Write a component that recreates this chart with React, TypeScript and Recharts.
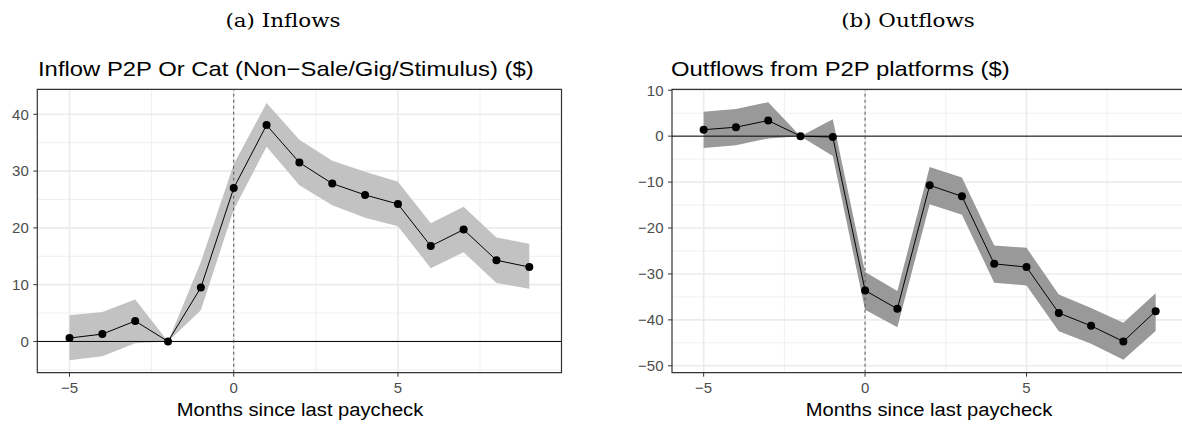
import React from "react";
import {
  ComposedChart,
  Area,
  Line,
  XAxis,
  YAxis,
  CartesianGrid,
  ReferenceLine,
  ReferenceArea,
} from "recharts";

// months relative to last paycheck
const MONTHS = [-5, -4, -3, -2, -1, 0, 1, 2, 3, 4, 5, 6, 7, 8, 9];

// (a) inflows: estimate and 95% band
const IN_EST = [0.6, 1.3, 3.6, 0, 9.5, 27.0, 38.1, 31.5, 27.8, 25.8, 24.2, 16.8, 19.7, 14.3, 13.1];
const IN_LO = [-3.3, -2.6, -0.3, 0, 5.5, 23.2, 34.3, 27.5, 24.0, 21.8, 20.3, 12.9, 15.7, 10.3, 9.3];
const IN_HI = [4.6, 5.2, 7.4, 0, 14.0, 31.2, 42.0, 35.5, 31.8, 29.9, 28.1, 20.8, 23.7, 18.3, 17.2];

// (b) outflows
const OUT_EST = [1.4, 1.95, 3.4, 0, -0.2, -33.6, -37.6, -10.7, -13.1, -27.8, -28.5, -38.5, -41.3, -44.7, -38.1];
const OUT_LO = [-2.6, -2.0, -0.5, 0, -4.3, -37.8, -41.6, -14.8, -17.1, -31.9, -32.5, -42.5, -45.2, -48.7, -42.4];
const OUT_HI = [5.3, 5.9, 7.4, 0, 3.7, -29.6, -33.7, -6.7, -9.0, -23.8, -24.3, -34.5, -37.4, -40.6, -34.2];

const X_TICKS = [-5, 0, 5];
const X_MINOR = [-2.5, 2.5, 7.5];
const X_DOMAIN: [number, number] = [-5.98, 9.98];

const IN_Y_TICKS = [0, 10, 20, 30, 40];
const IN_Y_MINOR = [-5, 5, 15, 25, 35];
const IN_Y_DOMAIN: [number, number] = [-5.5, 44.4];

const OUT_Y_TICKS = [10, 0, -10, -20, -30, -40, -50];
const OUT_Y_MINOR = [5, -5, -15, -25, -35, -45];
const OUT_Y_DOMAIN: [number, number] = [-51.5, 10.2];

const SANS = '"Liberation Sans", Arial, Helvetica, sans-serif';
const SERIF = '"DejaVu Serif", "Liberation Serif", serif';
// the source figure is a bit wider than tall, so text is stretched a little
const STRETCH = "scaleX(1.135)";

const fmt = (v: number) => String(v).replace("-", "\u2212");

function build(est: number[], lo: number[], hi: number[]) {
  return MONTHS.map((m, i) => ({ m, est: est[i], band: [lo[i], hi[i]] }));
}

interface PanelProps {
  data: { m: number; est: number; band: number[] }[];
  yTicks: number[];
  yMinor: number[];
  yDomain: [number, number];
  bandColor: string;
  width: number;
  yAxisWidth: number;
  rightMargin: number;
}

function Panel({ data, yTicks, yMinor, yDomain, bandColor, width, yAxisWidth, rightMargin }: PanelProps) {
  const tickStyle = { fontSize: 15, fill: "#4d4d4d", fontFamily: SANS };
  return (
    <ComposedChart
      width={width}
      height={424}
      data={data}
      margin={{ top: 89.3, right: rightMargin, left: 0, bottom: 0 }}
    >
      <CartesianGrid
        stroke="#ebebeb"
        strokeWidth={0.8}
        horizontalValues={yMinor}
        verticalValues={X_MINOR}
      />
      <CartesianGrid
        stroke="#ebebeb"
        strokeWidth={1.6}
        horizontalValues={yTicks}
        verticalValues={X_TICKS}
      />
      <XAxis
        dataKey="m"
        type="number"
        domain={X_DOMAIN}
        ticks={X_TICKS}
        allowDataOverflow
        height={51.3}
        axisLine={false}
        tickSize={4}
        tickMargin={6}
        tickLine={{ stroke: "#333333" }}
        tick={tickStyle}
        tickFormatter={fmt}
      />
      <YAxis
        type="number"
        domain={yDomain}
        ticks={yTicks}
        allowDataOverflow
        width={yAxisWidth}
        axisLine={false}
        tickSize={4}
        tickMargin={4.5}
        tickLine={{ stroke: "#333333" }}
        tick={tickStyle}
        tickFormatter={fmt}
      />
      <Area
        dataKey="band"
        type="linear"
        fill={bandColor}
        fillOpacity={1}
        stroke="none"
        isAnimationActive={false}
      />
      <ReferenceLine y={0} stroke="#000" strokeWidth={1} />
      <ReferenceLine x={0} stroke="#555" strokeWidth={1} strokeDasharray="3 3" />
      <Line
        dataKey="est"
        type="linear"
        stroke="#000"
        strokeWidth={1}
        dot={{ r: 4, fill: "#000", stroke: "#000", strokeWidth: 0 }}
        isAnimationActive={false}
      />
      <ReferenceArea
        x1={X_DOMAIN[0]}
        x2={X_DOMAIN[1]}
        y1={yDomain[0]}
        y2={yDomain[1]}
        fill="none"
        fillOpacity={0}
        stroke="#333333"
        strokeWidth={1.2}
        ifOverflow="visible"
      />
    </ComposedChart>
  );
}

const centered = (cx: number, top: number, font: string, size: number, scale: string): React.CSSProperties => ({
  position: "absolute",
  left: cx - 200,
  width: 400,
  top,
  textAlign: "center",
  fontFamily: font,
  fontSize: size,
  whiteSpace: "nowrap",
  transform: scale,
  transformOrigin: "center top",
  color: "#000",
});

const leftTitle = (left: number): React.CSSProperties => ({
  position: "absolute",
  left,
  top: 57,
  fontFamily: SANS,
  fontSize: 21,
  whiteSpace: "nowrap",
  transform: STRETCH,
  transformOrigin: "left top",
  color: "#000",
});

export default function App() {
  const inData = build(IN_EST, IN_LO, IN_HI);
  const outData = build(OUT_EST, OUT_LO, OUT_HI);

  return (
    <div
      style={{
        position: "fixed",
        left: 0,
        top: 0,
        width: 1182,
        height: 424,
        overflow: "hidden",
        background: "#fff",
      }}
    >
      <div style={{ position: "absolute", left: 0, top: 0 }}>
        <Panel
          data={inData}
          yTicks={IN_Y_TICKS}
          yMinor={IN_Y_MINOR}
          yDomain={IN_Y_DOMAIN}
          bandColor="#c2c2c2"
          width={575}
          yAxisWidth={37.3}
          rightMargin={13.5}
        />
      </div>
      <div style={{ position: "absolute", left: 621.7, top: 0 }}>
        <Panel
          data={outData}
          yTicks={OUT_Y_TICKS}
          yMinor={OUT_Y_MINOR}
          yDomain={OUT_Y_DOMAIN}
          bandColor="#999999"
          width={570.3}
          yAxisWidth={50}
          rightMargin={5}
        />
      </div>

      <div style={centered(283, 10, SERIF, 18, "scaleX(1.19)")}>(a) Inflows</div>
      <div style={centered(908, 10, SERIF, 18, "scaleX(1.19)")}>(b) Outflows</div>

      <div style={leftTitle(38)}>Inflow P2P Or Cat (Non{"\u2212"}Sale/Gig/Stimulus) ($)</div>
      <div style={leftTitle(671)}>Outflows from P2P platforms ($)</div>

      <div style={centered(299.5, 399.5, SANS, 18, "scaleX(1.12)")}>Months since last paycheck</div>
      <div style={centered(928.5, 399.5, SANS, 18, "scaleX(1.12)")}>Months since last paycheck</div>
    </div>
  );
}
